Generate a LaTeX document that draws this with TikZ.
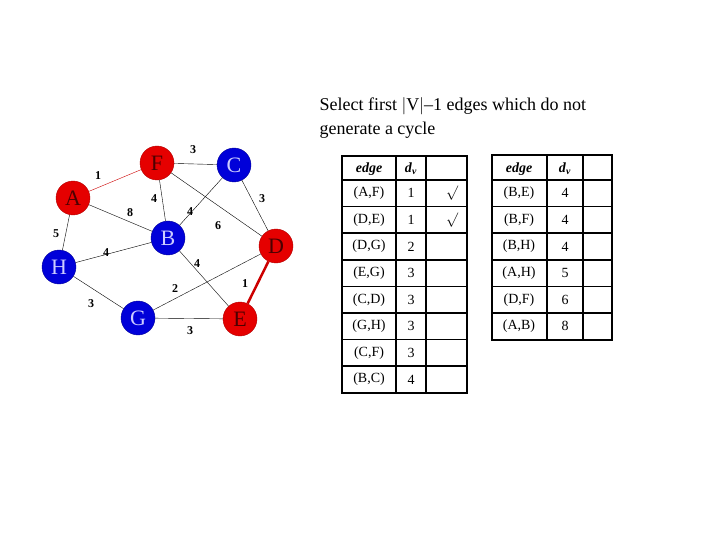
\documentclass[tikz,border=0pt]{standalone}
\usepackage{fontspec}
\setmainfont{Liberation Serif}
\begin{document}
\begin{tikzpicture}[
    x=1pt, y=-1pt,
    vred/.style={circle, draw=red!70!black, fill=red!90!black, minimum size=34pt,
                 inner sep=0pt, font=\fontsize{22}{24}\selectfont, text=red!30!black},
    vblue/.style={circle, draw=blue!60!black, fill=blue!85!black, minimum size=34pt,
                  inner sep=0pt, font=\fontsize{22}{24}\selectfont, text=blue!20!white},
    edg/.style={draw, thin},
    wt/.style={font=\fontsize{12}{13}\selectfont\bfseries, inner sep=1pt},
    cell/.style={font=\fontsize{14}{15}\selectfont, inner sep=0pt}
  ]
    \useasboundingbox (0,0) rectangle (720,540);
    \node[anchor=north west, align=left, font=\fontsize{18}{24}\selectfont]
      (title) at (316,94) {Select first $|$V$|$--1 edges which do not\\generate a cycle};

    \node[vred]  (F) at (157,163) {F};
    \node[vblue] (C) at (234,165) {C};
    \node[vred]  (A) at (73,198)  {A};
    \node[vblue] (B) at (168,238) {B};
    \node[vred]  (D) at (276,246) {D};
    \node[vblue] (H) at (59,267)  {H};
    \node[vblue] (G) at (138,318) {G};
    \node[vred]  (E) at (240,319) {E};

    \draw[edg] (F) -- (C);
    \draw[edg] (A) -- (B);
    \draw[edg] (F) -- (B);
    \draw[edg] (B) -- (C);
    \draw[edg] (F) -- (D);
    \draw[edg] (C) -- (D);
    \draw[edg] (A) -- (H);
    \draw[edg] (H) -- (B);
    \draw[edg] (B) -- (E);
    \draw[edg] (G) -- (D);
    \draw[edg] (H) -- (G);
    \draw[edg] (G) -- (E);
    \draw[red!80!black, thin] (A) -- (F);
    \draw[red!80!black, line width=2.5pt] (D) -- (E);

    \node[wt] (wAF) at (98,176)  {1};
    \node[wt] (wFC) at (193,150) {3};
    \node[wt] (wAB) at (130,213) {8};
    \node[wt] (wFB) at (154,199) {4};
    \node[wt] (wBC) at (190,212) {4};
    \node[wt] (wFD) at (218,226) {6};
    \node[wt] (wCD) at (262,199) {3};
    \node[wt] (wAH) at (56,234)  {5};
    \node[wt] (wHB) at (106,253) {4};
    \node[wt] (wBE) at (197,264) {4};
    \node[wt] (wGD) at (175,289) {2};
    \node[wt] (wDE) at (245,284) {1};
    \node[wt] (wHG) at (91,304)  {3};
    \node[wt] (wGE) at (190,331) {3};

    % left table
    \draw[line width=2pt] (342,156) rectangle (467,393);
    \foreach \x in {396,426} \draw[line width=1.5pt] (\x,156) -- (\x,393);
    \foreach \i in {0,...,7} \draw[line width=1.5pt] (342,180+\i*26.6) -- (467,180+\i*26.6);
    \node[cell] (h1) at (369,169) {\textbf{\textit{edge}}};
    \node[cell] (d1) at (411,169) {\textbf{\textit{d}}\textsubscript{\textbf{\textit{v}}}};
    \foreach \e/\w [count=\i from 0] in {(A{,}F)/1,(D{,}E)/1,(D{,}G)/2,(E{,}G)/3,(C{,}D)/3,(G{,}H)/3,(C{,}F)/3,(B{,}C)/4}
      \node[cell] at (369,193.3+\i*26.6) {\e} node[cell] at (411,193.3+\i*26.6) {\w};
    \node[cell] (ck1) at (452,193) {\textbf{$\surd$}};
    \node[cell] (ck2) at (452,220) {\textbf{$\surd$}};

    % right table
    \draw[line width=2pt] (492,155) rectangle (612,340);
    \foreach \x in {547,583} \draw[line width=1.5pt] (\x,155) -- (\x,340);
    \foreach \i in {0,...,5} \draw[line width=1.5pt] (492,180+\i*26.6) -- (612,180+\i*26.6);
    \node[cell] (h2) at (519,169) {\textbf{\textit{edge}}};
    \node[cell] (d2) at (565,169) {\textbf{\textit{d}}\textsubscript{\textbf{\textit{v}}}};
    \foreach \e/\w [count=\i from 0] in {(B{,}E)/4,(B{,}F)/4,(B{,}H)/4,(A{,}H)/5,(D{,}F)/6,(A{,}B)/8}
      \node[cell] at (519,193.3+\i*26.6) {\e} node[cell] at (565,193.3+\i*26.6) {\w};
  \end{tikzpicture}
\end{document}
